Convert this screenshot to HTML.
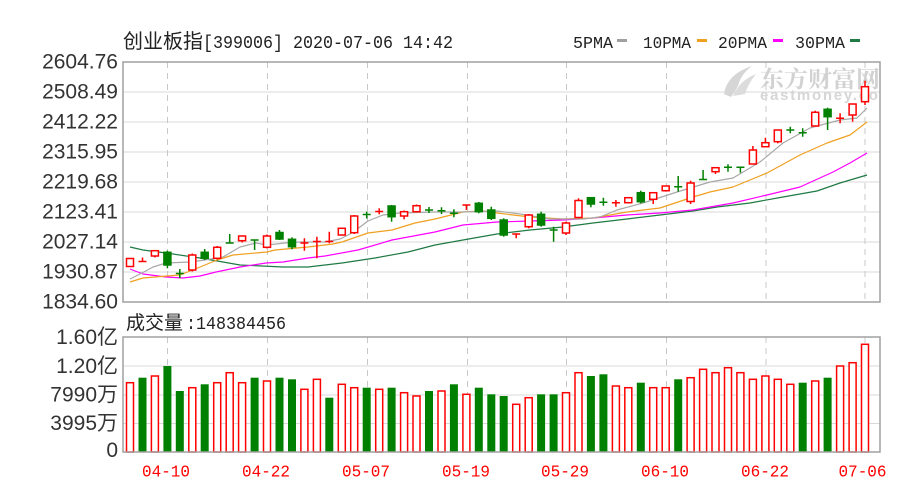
<!DOCTYPE html>
<html><head><meta charset="utf-8"><style>
html,body{margin:0;padding:0;background:#fff;}
svg{display:block;}
</style></head><body>
<svg width="908" height="494" viewBox="0 0 908 494" xmlns="http://www.w3.org/2000/svg">
<defs><clipPath id="pc"><rect x="123" y="62" width="757" height="240"/></clipPath></defs>
<rect width="908" height="494" fill="#fff"/>

<!-- title -->
<text x="123" y="48" font-family="'Noto Sans CJK SC',sans-serif" font-size="20" fill="#222">创业板指</text>
<text x="203" y="48" font-family="'Liberation Mono',monospace" font-size="18" fill="#222" textLength="250" lengthAdjust="spacingAndGlyphs">[399006] 2020-07-06 14:42</text>

<!-- legend -->
<g font-family="'Liberation Mono',monospace" font-size="17" fill="#222">
<text x="573" y="48" textLength="40" lengthAdjust="spacingAndGlyphs">5PMA</text>
<text x="643" y="48" textLength="48" lengthAdjust="spacingAndGlyphs">10PMA</text>
<text x="718" y="48" textLength="49" lengthAdjust="spacingAndGlyphs">20PMA</text>
<text x="795" y="48" textLength="50" lengthAdjust="spacingAndGlyphs">30PMA</text>
</g>
<rect x="617" y="39" width="10" height="3" fill="#a0a0a0"/>
<rect x="697" y="39" width="10" height="3" fill="#f0a020"/>
<rect x="773" y="39" width="10" height="3" fill="#ff00ff"/>
<rect x="850" y="39" width="10" height="3" fill="#1f7a44"/>

<!-- price y labels -->
<g font-family="'Liberation Sans',sans-serif" font-size="21" fill="#333" text-anchor="end">
<text x="118" y="68.5">2604.76</text>
<text x="118" y="98.5">2508.49</text>
<text x="118" y="128.5">2412.22</text>
<text x="118" y="158.5">2315.95</text>
<text x="118" y="188.5">2219.68</text>
<text x="118" y="218.5">2123.41</text>
<text x="118" y="248.5">2027.14</text>
<text x="118" y="278.5">1930.87</text>
<text x="118" y="308.5">1834.60</text>
</g>

<!-- grid -->
<g stroke="#d9d9d9" stroke-width="1">
<line x1="123" x2="880" y1="92" y2="92"/>
<line x1="123" x2="880" y1="122" y2="122"/>
<line x1="123" x2="880" y1="152" y2="152"/>
<line x1="123" x2="880" y1="182" y2="182"/>
<line x1="123" x2="880" y1="212" y2="212"/>
<line x1="123" x2="880" y1="242" y2="242"/>
<line x1="123" x2="880" y1="272" y2="272"/>
<line x1="123" x2="880" y1="366" y2="366"/>
<line x1="123" x2="880" y1="395" y2="395"/>
<line x1="123" x2="880" y1="423.5" y2="423.5"/>
</g>
<g stroke="#c8c8c8" stroke-width="1" stroke-dasharray="6,5">
<line x1="167.5" x2="167.5" y1="62" y2="302"/><line x1="267.5" x2="267.5" y1="62" y2="302"/>
<line x1="367.5" x2="367.5" y1="62" y2="302"/><line x1="467.5" x2="467.5" y1="62" y2="302"/>
<line x1="566.5" x2="566.5" y1="62" y2="302"/><line x1="666.5" x2="666.5" y1="62" y2="302"/>
<line x1="766" x2="766" y1="62" y2="302"/><line x1="865" x2="865" y1="62" y2="302"/>
<line x1="167.5" x2="167.5" y1="337" y2="452"/><line x1="267.5" x2="267.5" y1="337" y2="452"/>
<line x1="367.5" x2="367.5" y1="337" y2="452"/><line x1="467.5" x2="467.5" y1="337" y2="452"/>
<line x1="566.5" x2="566.5" y1="337" y2="452"/><line x1="666.5" x2="666.5" y1="337" y2="452"/>
<line x1="766" x2="766" y1="337" y2="452"/><line x1="865" x2="865" y1="337" y2="452"/>
</g>

<!-- watermark -->
<g clip-path="url(#pc)">
<path d="M724 94 Q727 74 752 66 Q741 74 738 86 Q735 92 731 97 Z" fill="#d6d6d6"/>
<path d="M733 96 Q740 80 756 74 Q748 84 745 94 Z" fill="#dcdcdc"/>
<text x="760" y="87" font-family="'Noto Serif CJK SC',serif" font-weight="bold" font-size="23" fill="#d2d2d2" textLength="120" lengthAdjust="spacingAndGlyphs">东方财富网</text>
<text x="760" y="100" font-family="'Liberation Sans',sans-serif" font-weight="bold" font-size="15" fill="#d6d6d6" textLength="133" lengthAdjust="spacing">eastmoney.com</text>
</g>

<!-- MA lines -->
<g fill="none" stroke-width="1.2" stroke-linejoin="round">
<polyline stroke="#1f7a44" points="130,247 143,250 166,253 200,258 223,262 240,265 283,267 308,267 342,263 375,258 408,252 435,245 463,240 497,234 530,230 563,227 593,223 627,219 660,215 693,211 717,207 750,203 783,197 817,191 840,183 867,175"/>
<polyline stroke="#ff00ff" points="130,269 143,274 166,277 183,278 200,276 216,272 240,267 266,263 283,262 308,258 325,256 358,250 392,240 435,232 463,225 497,222 530,221 563,220 593,218 627,215 660,213 693,210 710,207 733,203 767,195 800,187 833,172 850,163 867,153"/>
<polyline stroke="#f0a020" points="130,282 143,278 167,276 180,275 200,267 217,260 233,255 267,252 275,250 308,247 333,244 342,242 368,233 392,230 415,223 435,219 463,212 483,211 497,213 530,217 563,219 593,218 627,212 660,208 693,197 710,192 733,187 767,173 800,155 827,143 850,135 867,122"/>
<polyline stroke="#a8a8a8" points="130,279 142,273 153,267 166,263 190,262 205,260 223,257 240,247 256,243 267,245 285,243 300,242 325,242 340,239 352,233 368,221 383,215 400,213 433,212 463,212 497,211 520,214 550,219 583,219 600,217 617,210 643,203 677,192 710,182 733,178 760,162 783,143 810,128 840,120 857,118 867,108"/>
</g>

<!-- red candles -->
<g fill="#fff" stroke="#f00" stroke-width="1.5">
<rect x="126.5" y="258.5" width="7" height="8"/>
<path d="M142.5 257.5V261.5M138.5 261.5H146.5"/>
<path d="M154.9 256V257.5"/><rect x="151.4" y="250.7" width="7" height="5.3"/>
<path d="M192.3 253.5V271.5"/><rect x="188.8" y="255" width="7" height="15"/>
<path d="M217.2 246V259.5"/><rect x="213.7" y="247.3" width="7" height="11"/>
<path d="M242.1 240V242.5"/><rect x="238.6" y="236" width="7" height="4.7"/>
<path d="M267 234.5V248.5"/><rect x="263.5" y="236" width="7" height="11.3"/>
<path d="M304.4 238.3V250.7M300.4 243H308.4"/>
<path d="M316.9 236.7V258.3M312.9 241.5H320.9"/>
<path d="M329.3 231.7V243.3M325.3 241.5H333.3"/>
<path d="M341.8 227.5V235.5"/><rect x="338.3" y="228.3" width="7" height="6.7"/>
<path d="M354.2 215V234"/><rect x="350.7" y="216" width="7" height="16.7"/>
<path d="M379.2 208.3V214.3M375.2 211.5H383.2"/>
<path d="M404.1 210.5V219.3"/><rect x="400.6" y="211.7" width="7" height="4.3"/>
<path d="M416.5 204.5V212.5"/><rect x="413" y="205.7" width="7" height="6"/>
<path d="M462.4 205H470.4M466.4 205V210"/>
<path d="M512.2 234H520.2M516.2 234V238.3"/>
<path d="M528.7 214V228.3"/><rect x="525.2" y="215" width="7" height="11.7"/>
<path d="M566 221.7V235"/><rect x="562.5" y="223" width="7" height="10"/>
<path d="M578.5 198.3V218.3"/><rect x="575" y="200.5" width="7" height="17"/>
<path d="M615.9 200V206.7M611.9 202.7H619.9"/>
<path d="M628.3 197V203.5"/><rect x="624.8" y="197.7" width="7" height="5"/>
<path d="M653.2 192V204"/><rect x="649.7" y="192.7" width="7" height="6.6"/>
<path d="M665.7 185.5V191.7"/><rect x="662.2" y="186" width="7" height="4.7"/>
<path d="M690.6 180.7V204"/><rect x="687.1" y="183" width="7" height="18.5"/>
<path d="M715.5 167V174"/><rect x="712" y="167.7" width="7" height="4"/>
<path d="M752.9 146V164.5"/><rect x="749.4" y="150" width="7" height="14"/>
<path d="M765.4 137.7V147"/><rect x="761.9" y="142.7" width="7" height="4"/>
<path d="M777.8 129.5V143.3"/><rect x="774.3" y="130" width="7" height="11.7"/>
<path d="M815.2 110.7V126.5"/><rect x="811.7" y="112.3" width="7" height="13.7"/>
<path d="M840.1 113.3V123.3M836.1 118.3H844.1"/>
<path d="M852.6 103.5V121.7"/><rect x="849.1" y="104" width="7" height="11"/>
<path d="M865 80.7V105"/><rect x="861.5" y="86.7" width="7" height="15"/>
</g>

<!-- green candles -->
<g fill="#008000" stroke="#008000" stroke-width="1.5">
<path d="M167.4 250.7V268.3"/><rect x="163.9" y="252.3" width="7" height="12.7"/>
<path d="M179.8 269V278.3M175.8 273.5H183.8"/>
<path d="M204.7 249V260"/><rect x="201.2" y="252.3" width="7" height="6"/>
<path d="M229.7 234V243M225.7 243H233.7"/>
<path d="M250.6 240H258.6M254.6 240V250"/>
<path d="M279.5 230V240"/><rect x="276" y="232.5" width="7" height="6.5"/>
<path d="M292 237.3V249.3"/><rect x="288.5" y="239.3" width="7" height="7.4"/>
<path d="M366.7 211.5V218.5M362.7 214.5H370.7"/>
<path d="M391.6 205V221.7"/><rect x="388.1" y="206" width="7" height="10.7"/>
<path d="M429 207V213M425 210H433"/>
<path d="M441.5 207.3V214M437.5 210.7H445.5"/>
<path d="M453.9 209.3V217.3M449.9 213.3H457.9"/>
<path d="M478.8 202V213.3"/><rect x="475.3" y="203.3" width="7" height="8.4"/>
<path d="M491.3 206.7V220"/><rect x="487.8" y="210" width="7" height="8.3"/>
<path d="M503.7 218.3V236.7"/><rect x="500.2" y="220" width="7" height="15"/>
<path d="M541.1 211.7V226.7"/><rect x="537.6" y="214.3" width="7" height="10.7"/>
<path d="M553.6 226.7V241.7M549.6 230H557.6"/>
<path d="M590.9 197.7V207.3"/><rect x="587.4" y="197.7" width="7" height="6.3"/>
<path d="M603.4 197.7V205.7M599.4 202.3H607.4"/>
<path d="M640.8 190.7V203.3"/><rect x="637.3" y="192.7" width="7" height="9"/>
<path d="M678.2 176V191.7M674.2 186.7H682.2"/>
<path d="M703.1 170V179.5M699.1 179.5H707.1"/>
<path d="M728 164.3V171.7M724 167.3H732"/>
<path d="M736.4 167.3H744.4M740.4 167.3V172.7"/>
<path d="M790.3 126.7V133.3M786.3 130H794.3"/>
<path d="M802.7 128.3V136.7M798.7 132.7H806.7"/>
<path d="M827.6 107.7V130"/><rect x="824.1" y="109.3" width="7" height="7.4"/>
</g>

<!-- price frame -->
<rect x="123" y="62" width="757" height="240" fill="none" stroke="#a0a0a0" stroke-width="1.5"/>

<!-- volume label -->
<text x="126" y="329" font-family="'Noto Sans CJK SC',sans-serif" font-size="19" fill="#222">成交量</text>
<text x="186" y="329" font-family="'Liberation Mono',monospace" font-size="18" fill="#222" textLength="100" lengthAdjust="spacingAndGlyphs">:148384456</text>

<!-- volume y labels -->
<g font-family="'Liberation Sans','Noto Sans CJK SC',sans-serif" font-size="21" fill="#333" text-anchor="end">
<text x="118" y="344">1.60亿</text>
<text x="118" y="373">1.20亿</text>
<text x="118" y="401.5">7990万</text>
<text x="118" y="430">3995万</text>
<text x="118" y="457">0</text>
</g>

<!-- volume bars red -->
<g fill="#fff" stroke="#f00" stroke-width="1.5">
<rect x="126.5" y="382.7" width="7" height="69.3"/>
<rect x="151.4" y="376" width="7" height="76"/>
<rect x="188.8" y="387.7" width="7" height="64.3"/>
<rect x="213.7" y="382.7" width="7" height="69.3"/>
<rect x="226.2" y="372.7" width="7" height="79.3"/>
<rect x="238.6" y="382.7" width="7" height="69.3"/>
<rect x="263.5" y="381" width="7" height="71"/>
<rect x="300.9" y="389.3" width="7" height="62.7"/>
<rect x="313.4" y="379.3" width="7" height="72.7"/>
<rect x="338.3" y="384.3" width="7" height="67.7"/>
<rect x="350.7" y="387.7" width="7" height="64.3"/>
<rect x="375.7" y="389.3" width="7" height="62.7"/>
<rect x="400.6" y="392.7" width="7" height="59.3"/>
<rect x="413" y="396" width="7" height="56"/>
<rect x="438" y="391" width="7" height="61"/>
<rect x="462.9" y="394.3" width="7" height="57.7"/>
<rect x="512.7" y="404.3" width="7" height="47.7"/>
<rect x="525.2" y="397.7" width="7" height="54.3"/>
<rect x="562.5" y="392.7" width="7" height="59.3"/>
<rect x="575" y="372.7" width="7" height="79.3"/>
<rect x="612.4" y="386" width="7" height="66"/>
<rect x="624.8" y="387.7" width="7" height="64.3"/>
<rect x="649.7" y="387.7" width="7" height="64.3"/>
<rect x="662.2" y="387.7" width="7" height="64.3"/>
<rect x="687.1" y="377.7" width="7" height="74.3"/>
<rect x="699.6" y="369.3" width="7" height="82.7"/>
<rect x="712" y="372.7" width="7" height="79.3"/>
<rect x="724.5" y="367.7" width="7" height="84.3"/>
<rect x="736.9" y="372.7" width="7" height="79.3"/>
<rect x="749.4" y="379.3" width="7" height="72.7"/>
<rect x="761.9" y="376" width="7" height="76"/>
<rect x="774.3" y="379.3" width="7" height="72.7"/>
<rect x="786.8" y="384.3" width="7" height="67.7"/>
<rect x="811.7" y="381" width="7" height="71"/>
<rect x="836.6" y="366" width="7" height="86"/>
<rect x="849.1" y="362.7" width="7" height="89.3"/>
<rect x="861.5" y="344.3" width="7" height="107.7"/>
</g>
<!-- volume bars green -->
<g fill="#008000">
<rect x="138.5" y="377.7" width="8" height="74.3"/>
<rect x="163.4" y="366" width="8" height="86"/>
<rect x="175.8" y="391" width="8" height="61"/>
<rect x="200.7" y="384.3" width="8" height="67.7"/>
<rect x="250.6" y="377.7" width="8" height="74.3"/>
<rect x="275.5" y="377.7" width="8" height="74.3"/>
<rect x="288" y="379.3" width="8" height="72.7"/>
<rect x="325.3" y="397.7" width="8" height="54.3"/>
<rect x="362.7" y="387.7" width="8" height="64.3"/>
<rect x="387.6" y="387.7" width="8" height="64.3"/>
<rect x="425" y="391" width="8" height="61"/>
<rect x="449.9" y="384.3" width="8" height="67.7"/>
<rect x="474.8" y="387.7" width="8" height="64.3"/>
<rect x="487.3" y="394.3" width="8" height="57.7"/>
<rect x="499.7" y="396" width="8" height="56"/>
<rect x="537.1" y="394.3" width="8" height="57.7"/>
<rect x="549.6" y="394.3" width="8" height="57.7"/>
<rect x="586.9" y="376" width="8" height="76"/>
<rect x="599.4" y="374.3" width="8" height="77.7"/>
<rect x="636.8" y="382.7" width="8" height="69.3"/>
<rect x="674.2" y="379.3" width="8" height="72.7"/>
<rect x="798.7" y="382.7" width="8" height="69.3"/>
<rect x="823.6" y="377.7" width="8" height="74.3"/>
</g>

<!-- volume frame -->
<rect x="123" y="337" width="757" height="115" fill="none" stroke="#a0a0a0" stroke-width="1.5"/>

<!-- x labels -->
<g font-family="'Liberation Mono',monospace" font-size="17" fill="#f00" text-anchor="middle">
<text x="166" y="476.5" textLength="48" lengthAdjust="spacingAndGlyphs">04-10</text>
<text x="266" y="476.5" textLength="48" lengthAdjust="spacingAndGlyphs">04-22</text>
<text x="366" y="476.5" textLength="48" lengthAdjust="spacingAndGlyphs">05-07</text>
<text x="466" y="476.5" textLength="48" lengthAdjust="spacingAndGlyphs">05-19</text>
<text x="565" y="476.5" textLength="48" lengthAdjust="spacingAndGlyphs">05-29</text>
<text x="665" y="476.5" textLength="48" lengthAdjust="spacingAndGlyphs">06-10</text>
<text x="765" y="476.5" textLength="48" lengthAdjust="spacingAndGlyphs">06-22</text>
<text x="862.5" y="476.5" textLength="48" lengthAdjust="spacingAndGlyphs">07-06</text>
</g>
</svg>
</body></html>
